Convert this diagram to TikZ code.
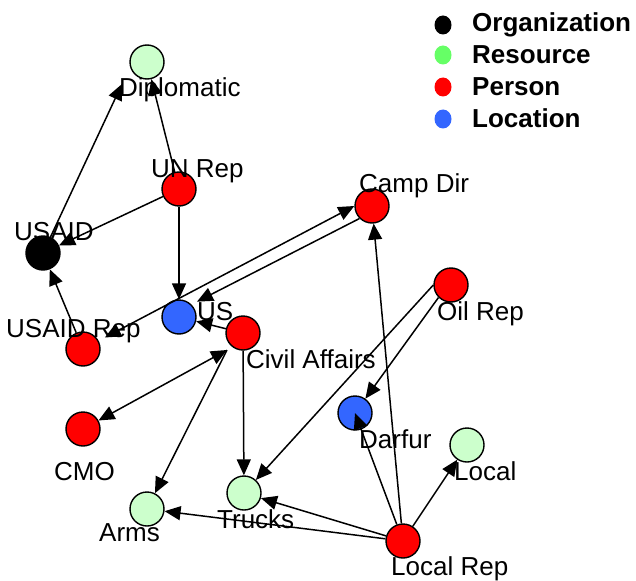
\documentclass[tikz,border=0pt]{standalone}
\usepackage{fontspec}
\setmainfont{Liberation Sans}
\usetikzlibrary{arrows.meta,calc,shapes.geometric}

\definecolor{orgc}{HTML}{000000}
\definecolor{resc}{HTML}{CCFFCC}
\definecolor{resleg}{HTML}{66FF66}
\definecolor{perc}{HTML}{FF0000}
\definecolor{locc}{HTML}{3366FF}

\tikzset{
  agent/.style={circle, draw=black, line width=1.4pt, minimum size=34pt, inner sep=0pt},
  org/.style={agent, fill=orgc},
  res/.style={agent, fill=resc},
  per/.style={agent, fill=perc},
  loc/.style={agent, fill=locc},
  lbl/.style={anchor=base west, inner sep=0pt, font=\fontsize{26}{30}\selectfont},
  leglbl/.style={anchor=base west, inner sep=0pt, font=\fontsize{26}{30}\selectfont\bfseries},
  legdot/.style={ellipse, minimum width=17pt, minimum height=19pt, inner sep=0pt},
  link/.style={line width=1.5pt, -{Triangle[length=16pt,width=14pt]}},
  biline/.style={line width=1.5pt, {Triangle[length=16pt,width=14pt]}-{Triangle[length=16pt,width=14pt]}}
}

\begin{document}
\begin{tikzpicture}[x=1pt,y=-1pt]
\useasboundingbox (0,0) rectangle (636,580);
\fill[white] (0,0) rectangle (636,580);

% legend
\node[legdot, fill=orgc]   (kor) at (443,25)  {};
\node[legdot, fill=resleg] (kre) at (443,55)  {};
\node[legdot, fill=perc]   (kpe) at (443,87)  {};
\node[legdot, fill=locc]   (klo) at (443,119) {};
\node[leglbl] (tor) at (472,32)  {Organization};
\node[leglbl] (tre) at (472,64)  {Resource};
\node[leglbl] (tpe) at (472,96)  {Person};
\node[leglbl] (tlo) at (472,128) {Location};

% agents
\node[res] (dipl)     at (147,62)  {};
\node[per] (unrep)    at (179,189) {};
\node[org] (usaid)    at (43,253)  {};
\node[per] (usaidrep) at (83,349)  {};
\node[loc] (us)       at (179,317) {};
\node[per] (civil)    at (243,333) {};
\node[per] (campdir)  at (372,206) {};
\node[per] (oilrep)   at (451,285) {};
\node[loc] (darfur)   at (355,413) {};
\node[res] (local)    at (467,445) {};
\node[per] (cmo)      at (83,429)  {};
\node[res] (arms)     at (147,509) {};
\node[res] (trucks)   at (244,493) {};
\node[per] (localrep) at (403,541) {};

% names
\node[lbl] (ldipl)     at (119,97)  {Diplomatic};
\node[lbl] (lunrep)    at (151,177) {UN Rep};
\node[lbl] (lusaid)    at (14,240)  {USAID};
\node[lbl] (lusaidrep) at (6,337)   {USAID Rep};
\node[lbl] (lus)       at (197,320) {US};
\node[lbl] (lcivil)    at (246,368) {Civil Affairs};
\node[lbl] (lcampdir)  at (359,192) {Camp Dir};
\node[lbl] (loilrep)   at (437,320) {Oil Rep};
\node[lbl] (ldarfur)   at (359,448) {Darfur};
\node[lbl] (llocal)    at (454,480) {Local};
\node[lbl] (lcmo)      at (54,480)  {CMO};
\node[lbl] (larms)     at (99,541)  {Arms};
\node[lbl] (ltrucks)   at (217,528) {Trucks};
\node[lbl] (llocalrep) at (391,575) {Local Rep};

% link end points offset from the circles
\coordinate (diplin) at ($(dipl)+(-25,22)$);
\coordinate (cafoot) at ($(civil)+(-16,17)$);

% links
\draw[link] (usaid) -- (diplin);
\draw[link] (unrep) -- (dipl);
\draw[link] (unrep) -- (usaid);
\draw[link] (unrep) -- (us);
\draw[link] (usaidrep) -- (usaid);
\draw[biline, shorten <=7pt] (usaidrep) -- (campdir.west);
\draw[link] (campdir.south west) -- (lus.north west);
\draw[link] (civil) -- (us);
\draw[biline] (cafoot) -- (cmo);
\draw[link] (cafoot) -- (arms);
\draw[link] (civil) -- (trucks);
\draw[link] (oilrep.west) -- (trucks);
\draw[link] (oilrep.south west) -- (darfur);
\draw[link] (localrep) -- (campdir);
\draw[link] (localrep) -- (darfur.center);
\draw[link] (localrep) -- (local);
\draw[link] (localrep) -- (trucks);
\draw[link] (localrep) -- (arms);
\end{tikzpicture}
\end{document}
